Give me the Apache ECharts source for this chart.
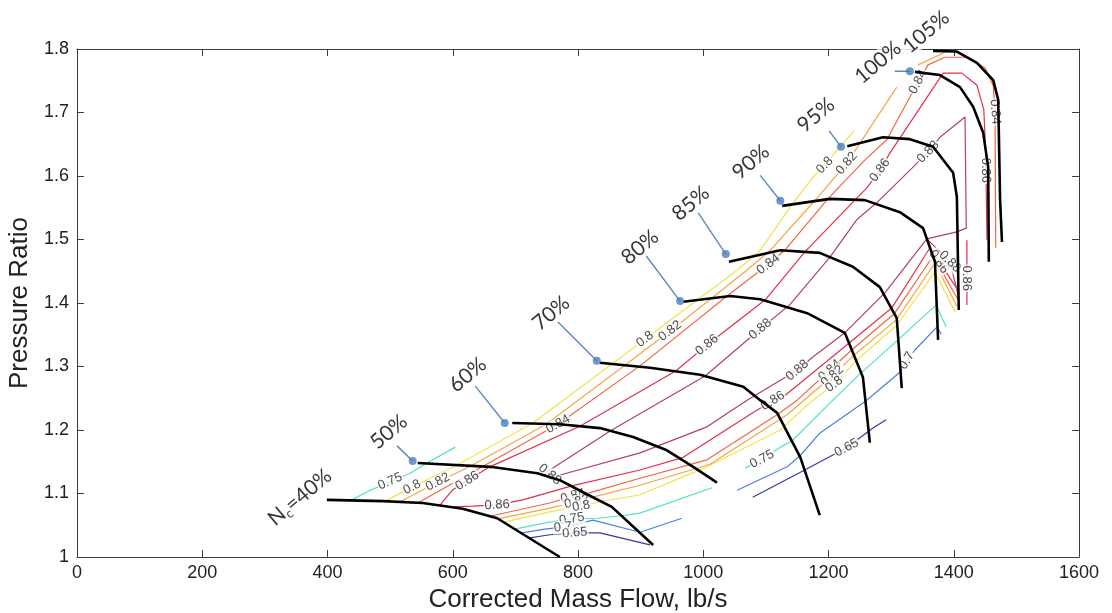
<!DOCTYPE html>
<html>
<head>
<meta charset="utf-8">
<title>Compressor Map</title>
<script src="https://cdn.jsdelivr.net/npm/echarts@6/dist/echarts.min.js"></script>
<style>
  html, body { margin: 0; padding: 0; background: #fff; }
  #chart { width: 1112px; height: 613px; }
</style>
</head>
<body>
<div id="chart"></div>
<script>
// ---- Speed lines (corrected mass flow lb/s, pressure ratio) ----
const speed40  = [[399,1.090],[489,1.088],[552,1.085],[616,1.076],[671,1.061],[771,1.000]];
const speed50  = [[544,1.148],[660,1.142],[735,1.132],[771,1.121],[808,1.102],[854,1.079],[920,1.019]];
const speed60  = [[695,1.211],[771,1.209],[835,1.203],[888,1.189],[942,1.168],[984,1.142],[1022,1.117]];
const speed70  = [[835,1.306],[915,1.298],[995,1.287],[1064,1.268],[1091,1.247],[1118,1.227],[1155,1.157],[1186,1.066]];
const speed80  = [[968,1.402],[1043,1.411],[1091,1.406],[1166,1.384],[1226,1.353],[1255,1.283],[1266,1.180]];
const speed85  = [[1041,1.465],[1123,1.483],[1186,1.479],[1239,1.457],[1282,1.425],[1309,1.376],[1317,1.266]];
const speed90  = [[1126,1.553],[1202,1.564],[1258,1.562],[1314,1.543],[1351,1.518],[1370,1.465],[1375,1.342]];
const speed95  = [[1230,1.647],[1287,1.661],[1330,1.658],[1367,1.646],[1399,1.605],[1405,1.567],[1408,1.389]];
const speed100 = [[1338,1.764],[1378,1.759],[1410,1.740],[1431,1.709],[1447,1.668],[1455,1.614],[1456,1.465]];
const speed105 = [[1367,1.797],[1405,1.796],[1437,1.778],[1463,1.751],[1471,1.720],[1474,1.562],[1477,1.496]];

// ---- Speed annotations ----
const speedNames   = ['40%','50%','60%','70%','80%','85%','90%','95%','100%','105%'];
const speedLabelAt = [[356,1.094],[498,1.197],[624,1.287],[757,1.384],[899,1.488],[980,1.557],[1076,1.622],[1180,1.696],[1279,1.779],[1356,1.827]];
const surgeMarks   = [[536,1.151],[683,1.211],[830,1.309],[963,1.403],[1036,1.477],[1123,1.561],[1220,1.646],[1330,1.765]];
const leaderStarts = [[511,1.175],[636,1.269],[768,1.370],[909,1.474],[992,1.542],[1091,1.601],[1201,1.671],[1306,1.765]];

// ---- Isentropic efficiency contours (each level: list of polyline pieces) ----
const eff065 = [
  [[723,1.030],[755,1.035],[795,1.038],[835,1.038],[915,1.019]],
  [[1079,1.094],[1162,1.137],[1198,1.156],[1229,1.172],[1271,1.203],[1292,1.216]]
];
const eff070 = [
  [[711,1.038],[747,1.044],[776,1.047],[824,1.058],[899,1.039],[966,1.061]],
  [[1054,1.105],[1134,1.142],[1156,1.161],[1186,1.195],[1260,1.246],[1314,1.291],[1325,1.309],[1338,1.326],[1373,1.362],[1380,1.351]]
];
const eff075 = [
  [[439,1.090],[468,1.105],[532,1.132],[559,1.148],[604,1.173]],
  [[699,1.044],[750,1.054],[790,1.060],[832,1.061],[870,1.065],[899,1.069],[1014,1.109]],
  [[1067,1.140],[1094,1.154],[1123,1.173],[1142,1.183],[1207,1.247],[1252,1.290],[1311,1.342],[1372,1.397],[1388,1.362]]
];
const eff080 = [
  [[492,1.088],[535,1.110],[607,1.145],[728,1.211],[854,1.304],[907,1.343],[988,1.403],[1048,1.447],[1070,1.465],[1091,1.483],[1140,1.553],[1175,1.598],[1194,1.617],[1218,1.646],[1242,1.672]],
  [[682,1.055],[755,1.071],[805,1.080],[835,1.087],[899,1.098],[1006,1.142],[1123,1.200],[1175,1.247],[1209,1.272],[1244,1.309],[1309,1.365],[1370,1.449],[1402,1.386]]
];
const eff082 = [
  [[516,1.087],[576,1.118],[628,1.143],[749,1.209],[875,1.302],[947,1.356],[1014,1.408],[1070,1.452],[1107,1.483],[1178,1.561],[1229,1.620],[1309,1.740]],
  [[1343,1.775],[1386,1.795]],
  [[672,1.060],[755,1.077],[798,1.087],[822,1.094],[899,1.113],[1011,1.146],[1134,1.224],[1206,1.285],[1241,1.318],[1308,1.373],[1370,1.463],[1405,1.395]]
];
const eff084 = [
  [[544,1.085],[647,1.142],[768,1.209],[899,1.301],[1038,1.411],[1104,1.461],[1130,1.483],[1199,1.564],[1258,1.625],[1293,1.657],[1343,1.748],[1359,1.775],[1386,1.787],[1423,1.787],[1450,1.770],[1463,1.742],[1466,1.701],[1467,1.487]],
  [[663,1.065],[755,1.085],[792,1.096],[811,1.099],[899,1.124],[1006,1.153],[1118,1.224],[1150,1.247],[1202,1.294],[1237,1.326],[1305,1.383],[1367,1.474],[1407,1.405]]
];
const eff086 = [
  [[580,1.082],[599,1.105],[623,1.120],[659,1.142],[803,1.206],[956,1.293],[1006,1.334],[1099,1.405],[1162,1.480],[1242,1.562],[1261,1.581],[1282,1.609],[1298,1.636],[1383,1.762],[1413,1.762],[1437,1.743],[1448,1.704],[1451,1.641],[1453,1.499]],
  [[599,1.079],[632,1.080],[671,1.082],[712,1.090],[790,1.112],[899,1.137],[968,1.157],[1079,1.227],[1111,1.246],[1130,1.254],[1233,1.337],[1301,1.392],[1362,1.487],[1407,1.420]],
  [[1421,1.499],[1421,1.397]]
];
const eff088 = [
  [[750,1.134],[763,1.142],[854,1.200],[1003,1.285],[1091,1.359],[1138,1.397],[1202,1.472],[1245,1.531],[1276,1.557],[1335,1.614],[1359,1.638],[1378,1.661],[1418,1.693],[1420,1.518],[1405,1.512],[1357,1.501],[1290,1.416],[1226,1.353],[1175,1.315],[1150,1.294],[1070,1.247],[1006,1.205],[899,1.164],[760,1.126],[750,1.134]],
  [[1357,1.501],[1394,1.465],[1408,1.408]]
];

// ---- Contour labels: [mass flow, pressure ratio, efficiency level] ----
const contourLabels = [
  [500,1.119,0.75],[535,1.110,0.8],[576,1.118,0.82],[623,1.120,0.86],[671,1.082,0.86],
  [755,1.130,0.88],[768,1.209,0.84],[907,1.343,0.8],[947,1.356,0.82],[1006,1.334,0.86],
  [1091,1.359,0.88],[1104,1.461,0.84],[1194,1.617,0.8],[1229,1.620,0.82],[1282,1.609,0.86],
  [1359,1.638,0.88],[1343,1.748,0.84],[1466,1.701,0.84],[1451,1.609,0.86],
  [792,1.096,0.84],[798,1.087,0.82],[805,1.080,0.8],[790,1.060,0.75],[776,1.047,0.7],[795,1.038,0.65],
  [1150,1.294,0.88],[1111,1.246,0.86],[1202,1.294,0.84],[1206,1.285,0.82],[1209,1.272,0.8],
  [1094,1.154,0.75],[1229,1.172,0.65],[1325,1.309,0.7],[1376,1.465,0.86],[1394,1.465,0.88],[1421,1.439,0.86]
];

// ---- Styling ----
const FONT = '"Liberation Sans", Arial, sans-serif';
const LABEL_FONT = 'Lato, "Open Sans", sans-serif';
const CLEAR = 'rgba(0,0,0,0)';
const levelColor = {
  0.65: '#3b36a6', 0.7: '#4d7fe0', 0.75: '#4fe3c4', 0.8: '#f3e24a',
  0.82: '#f7a443', 0.84: '#f2673f', 0.86: '#e2304a', 0.88: '#b0406e'
};
const contourSets = [
  [0.65, eff065], [0.7, eff070], [0.75, eff075], [0.8, eff080],
  [0.82, eff082], [0.84, eff084], [0.86, eff086], [0.88, eff088]
];
const speedSets = [speed40, speed50, speed60, speed70, speed80, speed85, speed90, speed95, speed100, speed105];

const chart = echarts.init(document.getElementById('chart'), null, { renderer: 'canvas' });

const axisLineStyle = { color: '#3c3c3c', width: 1 };
const series = [];

contourSets.forEach(([lvl, pieces]) => {
  pieces.forEach(piece => series.push({
    type: 'line', data: piece, showSymbol: false, silent: true, z: 2,
    lineStyle: { color: levelColor[lvl], width: 1.2 }, animation: false
  }));
});

series.push({
  id: 'effLabels', type: 'scatter', z: 3, silent: true, symbolSize: 1,
  itemStyle: { color: CLEAR }, animation: false,
  label: {
    show: true, position: 'inside', fontSize: 13, fontFamily: FONT, color: '#1a1a1a',
    backgroundColor: '#fff', padding: [0, 1],
    formatter: p => p.data.text
  },
  data: contourLabels.map(c => ({ value: [c[0], c[1]], text: String(c[2]) }))
});

speedSets.forEach(s => series.push({
  type: 'line', data: s, showSymbol: false, silent: true, z: 4,
  lineStyle: { color: '#000', width: 2.6 }, animation: false
}));

leaderStarts.forEach((p, i) => series.push({
  type: 'line', data: [p, surgeMarks[i]], showSymbol: false, silent: true, z: 5,
  lineStyle: { color: '#5b87c2', width: 1.4 }, animation: false
}));

series.push({
  type: 'scatter', data: surgeMarks, symbolSize: 8, z: 6, silent: true,
  itemStyle: { color: '#4a7ebb' }, animation: false
});

series.push({
  type: 'scatter', z: 7, silent: true, clip: false, symbolSize: 1,
  itemStyle: { color: CLEAR }, animation: false,
  label: {
    show: true, position: 'inside', rotate: 40, fontSize: 21, fontFamily: LABEL_FONT, color: '#000',
    backgroundColor: '#fff', padding: [0, 2],
    formatter: p => p.name,
    rich: {
      a: { fontSize: 21, fontFamily: LABEL_FONT, color: '#000', lineHeight: 25 },
      b: { fontSize: 13, fontFamily: LABEL_FONT, color: '#000', lineHeight: 8, verticalAlign: 'bottom' }
    }
  },
  data: speedNames.map((n, i) => i === 0
    ? { name: n, value: speedLabelAt[i], label: { formatter: '{a|N}{b|c}{a|=40%}' } }
    : { name: n, value: speedLabelAt[i] })
});

const plainNumber = v => String(+v.toFixed(4));

const option = {
  backgroundColor: '#fff',
  animation: false,
  grid: { left: 77, right: 33, top: 49, bottom: 56, outerBoundsMode: 'none', containLabel: false },
  xAxis: [
    {
      type: 'value', min: 0, max: 1600, interval: 200, position: 'bottom',
      axisLine: { show: true, onZero: false, lineStyle: axisLineStyle },
      axisTick: { show: true, inside: true, length: 7, lineStyle: axisLineStyle },
      axisLabel: { color: '#222', fontSize: 18, fontFamily: FONT, margin: 7, formatter: plainNumber },
      splitLine: { show: false },
      name: 'Corrected Mass Flow, lb/s', nameLocation: 'middle', nameGap: 28,
      nameTextStyle: { fontSize: 26, color: '#222', fontFamily: FONT }
    },
    {
      type: 'value', min: 0, max: 1600, interval: 200, position: 'top',
      axisLine: { show: true, onZero: false, lineStyle: axisLineStyle },
      axisTick: { show: true, inside: true, length: 7, lineStyle: axisLineStyle },
      axisLabel: { show: false }, splitLine: { show: false }
    }
  ],
  yAxis: [
    {
      type: 'value', min: 1, max: 1.8, interval: 0.1, position: 'left',
      axisLine: { show: true, onZero: false, lineStyle: axisLineStyle },
      axisTick: { show: true, inside: true, length: 7, lineStyle: axisLineStyle },
      axisLabel: { color: '#222', fontSize: 18, fontFamily: FONT, margin: 8, formatter: plainNumber },
      splitLine: { show: false },
      name: 'Pressure Ratio', nameLocation: 'middle', nameGap: 40,
      nameTextStyle: { fontSize: 26, color: '#222', fontFamily: FONT }
    },
    {
      type: 'value', min: 1, max: 1.8, interval: 0.1, position: 'right',
      axisLine: { show: true, onZero: false, lineStyle: axisLineStyle },
      axisTick: { show: true, inside: true, length: 7, lineStyle: axisLineStyle },
      axisLabel: { show: false }, splitLine: { show: false }
    }
  ],
  series: series
};

chart.setOption(option);

// Orient each contour label along the nearest piece of its own contour level.
const toPx = p => chart.convertToPixel({ xAxisIndex: 0, yAxisIndex: 0 }, p);
function distToSeg(p, a, b) {
  const dx = b[0] - a[0], dy = b[1] - a[1];
  const len2 = dx * dx + dy * dy || 1;
  let t = ((p[0] - a[0]) * dx + (p[1] - a[1]) * dy) / len2;
  t = Math.max(0, Math.min(1, t));
  const qx = a[0] + t * dx, qy = a[1] + t * dy;
  return Math.hypot(p[0] - qx, p[1] - qy);
}
function labelAngle(lvl, pos) {
  const pieces = contourSets.find(c => c[0] === lvl)[1];
  const p = toPx(pos);
  let best = null, bestD = Infinity;
  pieces.forEach(piece => {
    const pts = piece.map(toPx);
    for (let i = 0; i < pts.length - 1; i++) {
      const d = distToSeg(p, pts[i], pts[i + 1]);
      if (d < bestD) { bestD = d; best = [pts[i], pts[i + 1]]; }
    }
  });
  let ang = Math.atan2(-(best[1][1] - best[0][1]), best[1][0] - best[0][0]) * 180 / Math.PI;
  while (ang >= 90) ang -= 180;
  while (ang < -90) ang += 180;
  return ang;
}

chart.setOption({
  series: [{
    id: 'effLabels',
    data: contourLabels.map(c => ({
      value: [c[0], c[1]], text: String(c[2]),
      label: { rotate: labelAngle(c[2], [c[0], c[1]]) }
    }))
  }]
});
</script>
</body>
</html>
